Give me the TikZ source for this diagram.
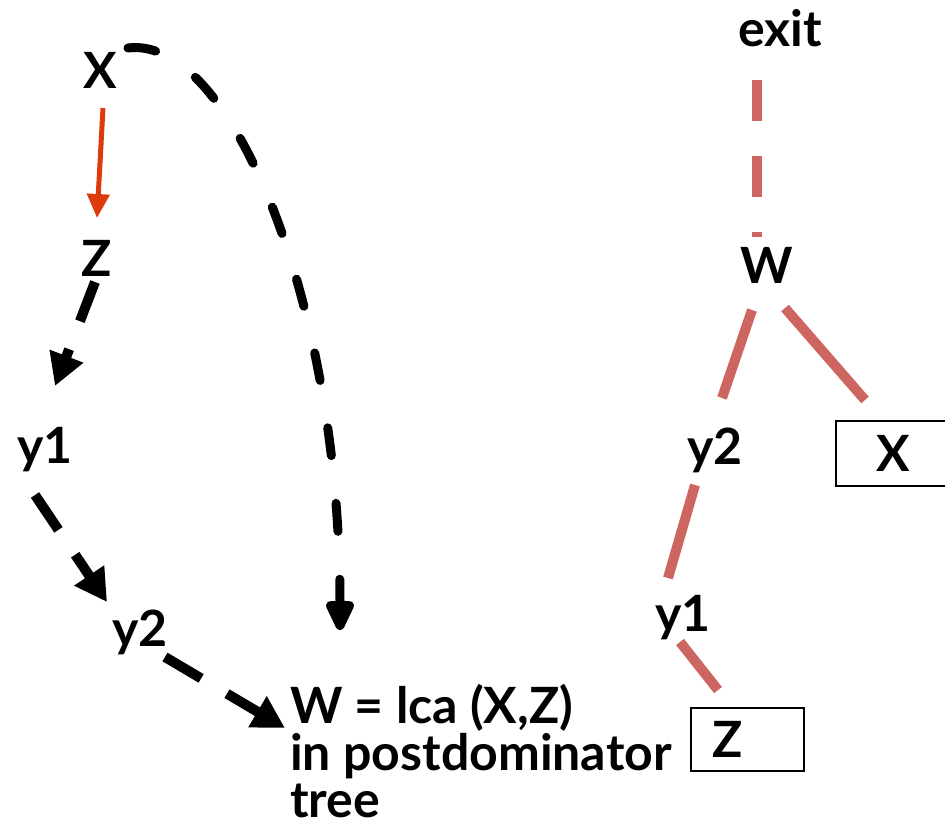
\documentclass[tikz,border=0pt]{standalone}
\usepackage{fontspec}
\setmainfont{Lato}
\usetikzlibrary{arrows.meta,calc}
\definecolor{treered}{RGB}{205,102,97}
\definecolor{arrred}{RGB}{221,59,14}
\begin{document}
\begin{tikzpicture}[x=1pt,y=-1pt,
  lbl/.style={font=\fontsize{50}{47}\selectfont\bfseries, inner sep=0pt},
  tline/.style={treered, line width=10pt},
  darr/.style={line width=10pt, dash pattern=on 42pt off 30pt, -{Triangle[length=32pt,width=34pt]}},
  carr/.style={line width=9pt, line cap=round, dash pattern=on 28pt off 48pt, -{Triangle[length=36pt,width=30pt,round=false]}},
  rarr/.style={arrred, line width=5pt, -{Triangle[length=24pt,width=22pt]}},
  boxnode/.style={draw, line width=2pt, font=\fontsize{50}{47}\selectfont\bfseries, align=left, minimum height=63pt}
]
\useasboundingbox (0,0) rectangle (945,828);
\clip (0,0) rectangle (945,828);
% left graph
\node[lbl] (lX) at (100,70) {X};
\node[lbl] (lZ) at (97,258) {Z};
\node[lbl] (ly1) at (45,450) {y1};
\node[lbl] (ly2) at (140,632) {y2};
\node[lbl, anchor=north west, align=left] (lW) at (290,684) {W = lca (X,Z)\\in postdominator\\tree};
\draw[rarr] ($(lX.center)+(3,38)$) -- ($(lZ.center)+(0,-40)$);
\draw[darr] ($(lZ.center)+(-2,24)$) -- ($(ly1.center)+(10,-64)$);
\draw[darr] ($(ly1.center)+(-10,45)$) -- ($(ly2.center)+(-33,-30)$);
\draw[darr] ($(ly2.center)+(25,25)$) -- ($(lW.north west)+(-5,44)$);
\draw[carr] ($(lX.center)+(28,-22)$) .. controls (230,35) and (340,300) .. ($(lW.north west)+(50,-54)$);
% right tree
\node[lbl] (exit) at (780,28) {exit};
\node[lbl] (rW) at (767,265) {W};
\node[lbl] (ry2) at (715,450) {y2};
\node[lbl] (ry1) at (683,618) {y1};
\node[boxnode, anchor=north west, text width=76pt, inner xsep=40pt, minimum height=65pt] (rX) at (835,420) {X};
\node[boxnode, anchor=north west, text width=71pt, inner xsep=21pt] (rZ) at (690,707) {Z};
\draw[tline, dash pattern=on 41pt off 35pt] ($(exit.center)+(-23,52)$) -- ($(rW.center)+(-10,-28)$);
\draw[tline] ($(rW.center)+(-15,45)$) -- ($(ry2.center)+(7,-52)$);
\draw[tline] ($(rW.center)+(18,43)$) -- ($(rX.north west)+(30,-20)$);
\draw[tline] ($(ry2.center)+(-20,35)$) -- ($(ry1.center)+(-15,-40)$);
\draw[tline] ($(ry1.center)+(-3,24)$) -- ($(rZ.north west)+(28,-17)$);
\end{tikzpicture}
\end{document}
